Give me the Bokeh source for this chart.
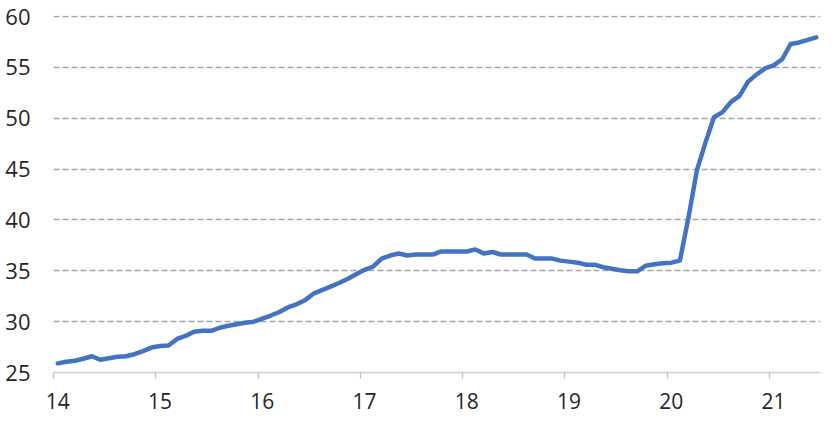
from bokeh.plotting import figure
from bokeh.models import FixedTicker, Range1d, ColumnDataSource
from bokeh.embed import file_html
from bokeh.resources import INLINE

# monthly values, Jan 2014 .. Jun 2021
values = [
    25.9, 26.05, 26.15, 26.35, 26.6, 26.25, 26.4, 26.55, 26.6, 26.8,
    27.1, 27.45, 27.6, 27.65, 28.3, 28.6, 29.0, 29.1, 29.1, 29.4,
    29.6, 29.75, 29.9, 30.0, 30.3, 30.6, 30.95, 31.4, 31.7, 32.1,
    32.75, 33.1, 33.45, 33.8, 34.2, 34.65, 35.1, 35.4, 36.2, 36.5,
    36.7, 36.5, 36.6, 36.6, 36.6, 36.9, 36.9, 36.9, 36.9, 37.1,
    36.7, 36.85, 36.6, 36.6, 36.6, 36.6, 36.2, 36.2, 36.2, 36.0,
    35.9, 35.8, 35.6, 35.6, 35.35, 35.2, 35.05, 34.95, 34.95, 35.5,
    35.65, 35.75, 35.8, 36.0, 40.2, 44.9, 47.6, 50.1, 50.6, 51.6,
    52.2, 53.6, 54.3, 54.9, 55.2, 55.8, 57.3, 57.45, 57.7, 57.95,
]
start_year = 14
years = list(range(14, 22))
year_labels = [str(y) for y in years]
y_ticks = [25, 30, 35, 40, 45, 50, 55, 60]

x = [start_year + (i + 0.5) / 12 for i in range(len(values))]
src = ColumnDataSource(dict(x=x, y=values))

p = figure(width=821, height=415, output_backend="svg", toolbar_location=None,
           x_range=Range1d(14, 21.5), y_range=Range1d(25, 60.1),
           min_border_left=53, min_border_right=1, min_border_top=15,
           min_border_bottom=43)
p.outline_line_color = None
p.background_fill_color = "white"

p.line("x", "y", source=src, line_color="#4472C4", line_width=4.5,
       line_join="round", line_cap="round")

# x axis: labels centred on the first month of each year, ticks at year start
label_pos = [y + 1 / 24 for y in years]
p.xaxis.ticker = FixedTicker(ticks=label_pos, minor_ticks=years)
p.xaxis.major_label_overrides = {lp: lab for lp, lab in zip(label_pos, year_labels)}
p.xaxis.axis_line_color = "#d0d0d0"
p.xaxis.axis_line_width = 1.3
p.xaxis.major_tick_line_color = None
p.xaxis.major_tick_out = 0
p.xaxis.major_tick_in = 0
p.xaxis.minor_tick_line_color = "#bfbfbf"
p.xaxis.minor_tick_line_width = 1.3
p.xaxis.minor_tick_out = 6
p.xaxis.minor_tick_in = 0
p.xaxis.major_label_standoff = 14
p.xaxis.major_label_text_font = "Open Sans"
p.xaxis.major_label_text_font_size = "21px"
p.xaxis.major_label_text_color = "#262626"

p.yaxis.ticker = FixedTicker(ticks=y_ticks)
p.yaxis.axis_line_color = None
p.yaxis.major_tick_line_color = None
p.yaxis.minor_tick_line_color = None
p.yaxis.major_tick_out = 0
p.yaxis.major_tick_in = 0
p.yaxis.major_label_standoff = 23
p.yaxis.major_label_text_font = "Open Sans"
p.yaxis.major_label_text_font_size = "22px"
p.yaxis.major_label_text_color = "#262626"

p.xgrid.grid_line_color = None
p.ygrid.grid_line_color = "#a6a6a6"
p.ygrid.grid_line_width = 1.5
p.ygrid.grid_line_dash = "6 3"

open("out.html", "w").write(file_html(p, INLINE))
